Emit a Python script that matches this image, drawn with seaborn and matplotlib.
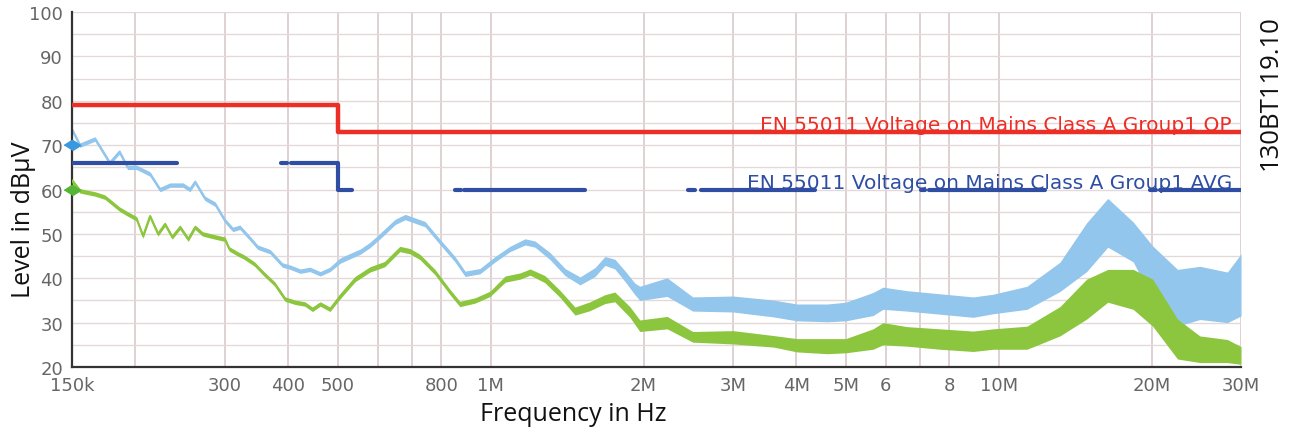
import matplotlib
matplotlib.use('Agg')
import numpy as np
import pandas as pd
import seaborn as sns
import matplotlib.pyplot as plt

# Peak trace (light blue): frequency in MHz, level in dBuV, half width of the noise band
peak_f = [0.150, 0.1555, 0.1665, 0.178, 0.186, 0.193, 0.201, 0.2136, 0.2235, 0.234,
          0.248, 0.256, 0.262, 0.274, 0.287, 0.300, 0.311, 0.321, 0.336, 0.348,
          0.368, 0.389, 0.403, 0.422, 0.441, 0.462, 0.483, 0.506, 0.529, 0.554,
          0.579, 0.606, 0.649, 0.679, 0.710, 0.743, 0.795, 0.851, 0.891, 0.953,
          1.021, 1.092, 1.169, 1.223, 1.309, 1.401, 1.500, 1.605, 1.679, 1.756,
          1.838, 1.923,
          1.967, 2.226, 2.50, 3.0, 3.60, 4.01, 4.60, 5.0, 5.66, 5.92,
          6.60, 7.67, 8.91, 9.75, 11.37, 13.2, 14.9, 16.4, 18.4, 20.1,
          22.5, 24.9, 28.2, 30.0]
peak_db = [73.5, 70, 71.4, 66, 68.5, 65, 65, 63.5, 60, 61,
           61, 60, 61.7, 58, 56.7, 53, 51, 51.5, 49, 47,
           46, 43, 42.5, 41.6, 42, 41, 42, 44, 45, 46,
           47.5, 49.5, 52.7, 53.8, 53, 52.2, 48.2, 44.3, 41, 41.6,
           44.3, 46.6, 48.2, 47.7, 45, 41.4, 39.4, 41.4, 43.9, 43.2,
           40.5, 37.6,
           36.6, 38, 34.2, 34.2, 33.2, 32.3, 32.2, 32.5, 34.2, 35.5,
           34.9, 34.2, 33.5, 34.2, 35.6, 40.3, 47, 52.5, 48.2, 41.3,
           35.6, 36.7, 35.7, 38.5]
peak_spread = ([0.5] * 27 + [0.6] * 13
               + [0.6, 0.6, 0.7, 0.7, 0.8, 0.8, 0.9, 1.0, 1.0, 1.1, 1.2, 1.3]
               + [1.6, 2.1, 1.6, 1.8, 1.9, 1.9, 2, 2.1, 2.6, 2.5,
                  2.3, 2.3, 2.3, 2.2, 2.6, 3.3, 5.5, 5.5, 4.5, 6,
                  6.4, 6, 5.7, 7])

# Average trace (green)
avg_f = [0.150, 0.1555, 0.1665, 0.174, 0.186, 0.193, 0.201, 0.207, 0.2136, 0.2215,
         0.2286, 0.2362, 0.2448, 0.254, 0.262, 0.271, 0.287, 0.300, 0.306, 0.318,
         0.327, 0.343, 0.358, 0.376, 0.394, 0.412, 0.431, 0.446, 0.462, 0.483,
         0.506, 0.541, 0.579, 0.619, 0.663, 0.694, 0.726, 0.777, 0.832, 0.870,
         0.932, 0.998, 1.068, 1.143, 1.196, 1.279, 1.369, 1.466, 1.569, 1.679,
         1.756, 1.880,
         1.967, 2.226, 2.50, 3.0, 3.60, 4.01, 4.60, 5.0, 5.66, 5.92,
         6.60, 7.67, 8.91, 9.75, 11.37, 13.2, 14.9, 16.4, 18.4, 20.1,
         22.5, 24.9, 28.2, 30.0]
avg_db = [62, 59.7, 59, 58.3, 55.6, 54.5, 53.4, 49.5, 54, 50,
          52.2, 49.3, 51.5, 48.8, 51.5, 50, 49.3, 48.8, 46.6, 45.5,
          44.8, 43.2, 41, 38.7, 35.3, 34.6, 34.2, 33, 34.2, 33,
          36, 39.8, 42, 43.2, 46.6, 46.1, 44.8, 41.4, 36.9, 34.2,
          35, 36.5, 39.8, 40.5, 41.4, 39.8, 36.5, 32.6, 33.7, 35.3,
          35.8, 32.4,
          29.3, 30, 26.8, 26.7, 25.8, 24.9, 24.7, 24.8, 26.3, 27.5,
          26.9, 26.3, 25.8, 26.3, 26.6, 30.3, 35.3, 38.3, 37.5, 34.5,
          26.3, 24, 23.6, 22.6]
avg_spread = ([0.5] * 30 + [0.6] * 10
              + [0.6, 0.6, 0.7, 0.7, 0.7, 0.8, 0.8, 0.9, 1.0, 1.0, 1.1, 1.2]
              + [1.3, 1.4, 1.2, 1.5, 1.3, 1.5, 1.7, 1.6, 2.3, 2.5,
                 2.2, 2.3, 2.3, 2.3, 2.6, 3.3, 4.5, 3.7, 4.5, 5.3,
                 4.5, 3, 2.6, 2])

# Limit lines
lim_f = [0.15, 0.5, 0.5, 30]
qp_lim = [79, 79, 73, 73]
avg_lim = [66, 66, 60, 60]
# visible pieces of the AVG limit (MHz)
avg_seg_start = [0.15, 0.387, 0.405, 0.851, 0.888, 2.447, 2.60, 7.02, 7.28, 19.87, 20.8]
avg_seg_end = [0.241, 0.398, 0.534, 0.875, 1.535, 2.53, 4.35, 7.15, 12.35, 20.4, 30]

xtick_pos = [0.15, 0.2, 0.3, 0.4, 0.5, 0.6, 0.7, 0.8, 1, 2, 3, 4, 5, 6, 7, 8, 10, 20, 30]
xtick_lab = ['150k', '', '300', '400', '500', '', '', '800', '1M', '2M', '3M', '4M', '5M',
             '6', '', '8', '10M', '20M', '30M']
ytick_pos = [20, 30, 40, 50, 60, 70, 80, 90, 100]

sns.set_style('white')
plt.rcParams['font.family'] = ['DejaVu Sans']

fig = plt.figure(figsize=(12.93, 4.35), dpi=100)
ax = fig.add_axes([0.0557, 0.154, 0.9041, 0.816])
ax.set_xscale('log')

peak_c = '#92c6ec'
avg_c = '#8cc63f'
red_c = '#ec2f26'
blue_c = '#2f4ea3'

# traces
lo = np.array(peak_db) - np.array(peak_spread)
hi = np.array(peak_db) + np.array(peak_spread)
ax.fill_between(peak_f, lo, hi, color=peak_c, lw=0, zorder=2)
sns.lineplot(x=peak_f, y=peak_db, ax=ax, color=peak_c, lw=1.5, estimator=None, sort=False, zorder=2)

lo = np.array(avg_db) - np.array(avg_spread)
hi = np.array(avg_db) + np.array(avg_spread)
ax.fill_between(avg_f, lo, hi, color=avg_c, lw=0, zorder=3)
sns.lineplot(x=avg_f, y=avg_db, ax=ax, color=avg_c, lw=1.5, estimator=None, sort=False, zorder=3)

# QP limit
sns.lineplot(x=lim_f, y=qp_lim, ax=ax, color=red_c, lw=3.2, estimator=None, sort=False, zorder=5)


# AVG limit, drawn in pieces
def avg_level(f):
    return avg_lim[0] if f < lim_f[1] else avg_lim[-1]


rows = []
for i, (a, b) in enumerate(zip(avg_seg_start, avg_seg_end)):
    rows.append((i, a, avg_level(a)))
    if a < lim_f[1] < b:
        rows.append((i, lim_f[1], avg_lim[1]))
        rows.append((i, lim_f[2], avg_lim[2]))
    rows.append((i, b, avg_level(b)))
seg_df = pd.DataFrame(rows, columns=['seg', 'f', 'db'])
sns.lineplot(data=seg_df, x='f', y='db', units='seg', estimator=None, sort=False,
             ax=ax, color=blue_c, lw=3, zorder=5)

# start markers
diamond = [(-1.6, 0), (0, 1), (1.6, 0), (0, -1)]
ax.plot([0.15], [70], marker=diamond, ms=12, color='#3a98df', clip_on=False, zorder=6)
ax.plot([0.15], [60], marker=diamond, ms=12, color='#55b535', clip_on=False, zorder=6)

# labels on the limit lines
ax.text(28.8, 73.5, 'EN 55011 Voltage on Mains Class A Group1 QP', color=red_c,
        fontsize=14.5, ha='right', va='baseline', zorder=7)
ax.text(28.8, 60.4, 'EN 55011 Voltage on Mains Class A Group1 AVG', color=blue_c,
        fontsize=14.5, ha='right', va='baseline', zorder=7)

ax.set_xlim(0.15, 30)
ax.set_ylim(20, 100)
ax.set_xticks(xtick_pos)
ax.set_xticklabels(xtick_lab)
ax.xaxis.set_minor_locator(matplotlib.ticker.NullLocator())
ax.set_yticks(ytick_pos)
ax.set_yticks(np.arange(25, 100, 10), minor=True)

ax.grid(True, axis='x', color='#d8c9c9', lw=1.2, zorder=0)
ax.grid(True, axis='y', which='both', color='#e4d9d9', lw=1.0, zorder=0)

for s in ['top', 'right']:
    ax.spines[s].set_visible(False)
for s in ['left', 'bottom']:
    ax.spines[s].set_color('#333333')
    ax.spines[s].set_linewidth(1.6)

ax.tick_params(axis='both', which='both', direction='inout', color='#333333', width=1.3,
               labelcolor='#666666', labelsize=13)
ax.tick_params(axis='y', which='both', length=9, pad=2)
ax.tick_params(axis='x', which='both', length=7, pad=3)

ax.set_xlabel('Frequency in Hz', fontsize=18, family='Open Sans', color='#111111')
ax.xaxis.set_label_coords(0.4286, -0.095)
ax.set_ylabel('Level in dBµV', fontsize=18, family='Open Sans', color='#111111')
ax.yaxis.set_label_coords(-0.031, 0.417)

fig.text(0.982, 0.787, '130BT119.10', rotation=90, fontsize=18.5, family='Open Sans',
         color='#111111', ha='center', va='center')

fig.savefig('out.png', dpi=100)
